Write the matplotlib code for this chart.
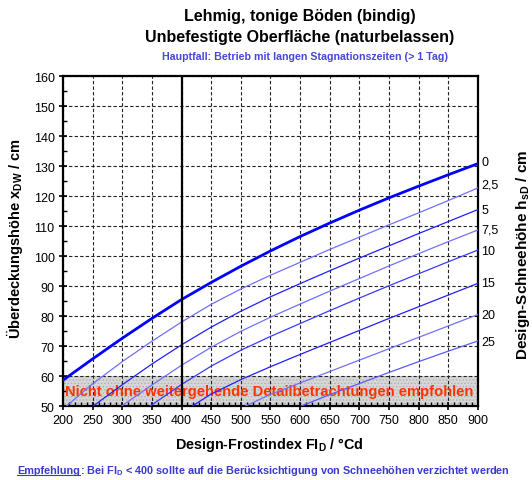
import matplotlib
matplotlib.use('Agg')
import matplotlib.pyplot as plt
from matplotlib.ticker import MultipleLocator

plt.rcParams['font.family'] = ['Liberation Sans', 'DejaVu Sans']
plt.rcParams['mathtext.fontset'] = 'custom'
plt.rcParams['mathtext.rm'] = 'Liberation Sans:bold'
plt.rcParams['mathtext.default'] = 'rm'
plt.rcParams['hatch.color'] = '#b0b0b0'
plt.rcParams['hatch.linewidth'] = 0.6

# Schneehoehen (Kurvenbeschriftung rechts)
snow_labels = ['0', '2,5', '5', '7,5', '10', '15', '20', '25']
label_y = [131.5, 123.8, 115.3, 108.7, 101.7, 91.0, 80.3, 71.3]

# Design-Frostindex / Ueberdeckungshoehe je Schneehoehe
fi_0 = [200, 250, 300, 350, 400, 450, 500, 550, 600, 650, 700, 750, 800, 850, 900]
xdw_0 = [58.6, 65.7, 72.6, 79.2, 85.5, 91.2, 96.6, 101.7, 106.5, 111.0, 115.3, 119.4, 123.3, 127.1, 130.8]

fi_2_5 = [206, 250, 300, 350, 400, 450, 500, 550, 600, 650, 700, 750, 800, 850, 900]
xdw_2_5 = [50.0, 57.4, 64.8, 71.6, 78.0, 83.9, 89.0, 93.6, 97.9, 102.2, 106.3, 110.4, 114.4, 118.5, 122.7]

fi_5 = [251, 300, 350, 400, 450, 500, 550, 600, 650, 700, 750, 800, 850, 900]
xdw_5 = [50.0, 57.1, 64.0, 70.4, 76.3, 81.6, 86.4, 90.8, 95.1, 99.3, 103.4, 107.5, 111.5, 115.5]

fi_7_5 = [299, 350, 400, 450, 500, 550, 600, 650, 700, 750, 800, 850, 900]
xdw_7_5 = [50.0, 57.0, 63.6, 69.6, 74.9, 79.6, 84.0, 88.3, 92.5, 96.7, 100.8, 104.8, 108.7]

fi_10 = [347, 400, 450, 500, 550, 600, 650, 700, 750, 800, 850, 900]
xdw_10 = [50.0, 57.2, 63.3, 68.6, 73.2, 77.5, 81.8, 86.0, 90.1, 94.1, 98.1, 102.0]

fi_15 = [418, 450, 500, 550, 600, 650, 700, 750, 800, 850, 900]
xdw_15 = [50.0, 54.0, 58.8, 63.1, 67.2, 71.2, 75.2, 79.2, 83.1, 87.0, 90.9]

fi_20 = [508, 550, 600, 650, 700, 750, 800, 850, 900]
xdw_20 = [50.0, 53.9, 57.7, 61.5, 65.3, 69.1, 72.9, 76.7, 80.5]

fi_25 = [602, 650, 700, 750, 800, 850, 900]
xdw_25 = [50.0, 53.8, 57.5, 61.2, 64.8, 68.3, 71.7]

thin_fi = [fi_2_5, fi_5, fi_7_5, fi_10, fi_15, fi_20, fi_25]
thin_xdw = [xdw_2_5, xdw_5, xdw_7_5, xdw_10, xdw_15, xdw_20, xdw_25]
thin_col = ['#7070ff', '#2020ff', '#7070ff', '#3a3aff', '#2020ff', '#7070ff', '#5a5aff']

fig = plt.figure(figsize=(5.32, 4.81), dpi=100)
ax = fig.add_axes([0.1184, 0.1538, 0.7801, 0.6861])

# grauer Bereich < 60 cm
ax.axhspan(50, 60, facecolor='#d6d6d6', edgecolor='#b0b0b0', hatch='.....', lw=0, zorder=0)
ax.text(547, 55, 'Nicht ohne weitergehende Detailbetrachtungen empfohlen',
        color='#ff3300', fontsize=10.6, fontweight='bold', ha='center', va='center', zorder=1)

ax.grid(True, which='major', color='#222222', linestyle=(0, (3, 2)), lw=0.8, zorder=1)
ax.set_axisbelow(True)

for f, x, c in zip(thin_fi, thin_xdw, thin_col):
    ax.plot(f, x, color=c, lw=0.9, zorder=3)
ax.plot(fi_0, xdw_0, color='#0000ff', lw=2.0, zorder=4)

ax.axvline(400, color='black', lw=1.6, zorder=5)

ax.set_xlim(200, 900)
ax.set_ylim(50, 160)
ax.xaxis.set_major_locator(MultipleLocator(50))
ax.xaxis.set_minor_locator(MultipleLocator(10))
ax.yaxis.set_major_locator(MultipleLocator(10))
ax.yaxis.set_minor_locator(MultipleLocator(5))
ax.tick_params(which='major', direction='inout', length=6, width=1.2, labelsize=9, pad=3)
ax.tick_params(which='minor', direction='in', length=3, width=1.0)
for s in ax.spines.values():
    s.set_linewidth(1.6)

for lab, y in zip(snow_labels, label_y):
    ax.text(906, y, lab, fontsize=9, ha='left', va='center', clip_on=False)

# Texte
fig.text(0.564, 0.965, 'Lehmig, tonige Böden (bindig)', fontsize=11.5, fontweight='bold', ha='center', va='center')
fig.text(0.564, 0.923, 'Unbefestigte Oberfläche (naturbelassen)', fontsize=11.5, fontweight='bold', ha='center', va='center')
fig.text(0.573, 0.881, 'Hauptfall: Betrieb mit langen Stagnationszeiten (> 1 Tag)', fontsize=7.7,
         fontweight='bold', color='#4848d8', ha='center', va='center')
fig.text(0.506, 0.075, r'Design-Frostindex FI$_{D}$ / °Cd', fontsize=10.4, fontweight='bold', ha='center', va='center')
fig.text(0.028, 0.503, r'Überdeckungshöhe x$_{DW}$ / cm', fontsize=10.5, fontweight='bold',
         rotation=90, ha='center', va='center')
fig.text(0.983, 0.47, r'Design-Schneehöhe h$_{sD}$ / cm', fontsize=11, fontweight='bold',
         rotation=90, ha='center', va='center')

note_col = '#3a3ad0'
t1 = fig.text(0.032, 0.014, 'Empfehlung', fontsize=7.8, fontweight='bold', color=note_col, ha='left', va='baseline')
fig.canvas.draw()
bb = t1.get_window_extent().transformed(fig.transFigure.inverted())
fig.text(bb.x1, 0.014, r': Bei FI$_{D}$ < 400 sollte auf die Berücksichtigung von Schneehöhen verzichtet werden',
         fontsize=7.8, fontweight='bold', color=note_col, ha='left', va='baseline')
fig.add_artist(plt.Line2D([bb.x0, bb.x1], [0.010, 0.010], color=note_col, lw=0.8, transform=fig.transFigure))

fig.savefig('out.png', dpi=100)
